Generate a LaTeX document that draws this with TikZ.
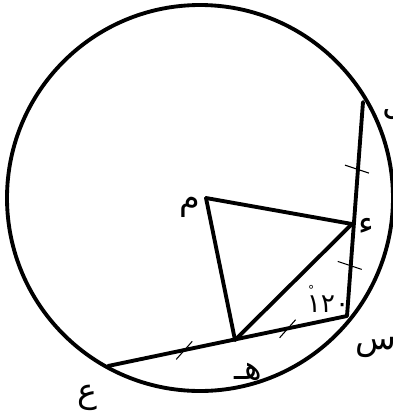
\documentclass[tikz,border=0pt]{standalone}
\usepackage{fontspec}
\newfontfamily\arabicfont[Script=Arabic]{DejaVu Sans}
\TeXXeTstate=1
\usetikzlibrary{calc}
\tikzset{
  edge/.style={line width=2.2pt, line cap=round, line join=round},
  tickmark/.style={line width=0.6pt},
  lbl/.style={font=\arabicfont\fontsize{19}{21}\selectfont, inner sep=0pt},
}

\begin{document}
\begin{tikzpicture}[x=0.02cm, y=-0.02cm]
  % frame
  \fill[white] (0,0) rectangle (393,417);
  \useasboundingbox (0,0) rectangle (393,417);
  % points
  \coordinate (O) at (200,198);
  \coordinate (L) at (363,102);
  \coordinate (S) at (347,316);
  \coordinate (D) at (352,224);
  \coordinate (M) at (206,198);
  \coordinate (H) at (235,340);
  \coordinate (A) at (108,366);
  % circle
  \draw[edge] (O) circle[radius=193];
  % chords and triangle
  \draw[edge] (L) -- (S);
  \draw[edge] (A) -- (S);
  \draw[edge] (M) -- (D);
  \draw[edge] (M) -- (H);
  \draw[edge] (H) -- (D);
  % equal marks
  \path (L) -- (D) coordinate[pos=0.55] (t1);
  \path (D) -- (S) coordinate[pos=0.45] (t2);
  \path (A) -- (H) coordinate[pos=0.6] (t3);
  \path (H) -- (S) coordinate[pos=0.47] (t4);
  \draw[tickmark] ($(t1)+(-12,-4)$) -- ($(t1)+(12,4)$);
  \draw[tickmark] ($(t2)+(-12,-4)$) -- ($(t2)+(12,4)$);
  \draw[tickmark] ($(t3)+(-8,9)$) -- ($(t3)+(8,-9)$);
  \draw[tickmark] ($(t4)+(-8,9)$) -- ($(t4)+(8,-9)$);
  % labels
  \node[lbl] (lL) at (395,104) {\beginR ل\endR};
  \node[lbl] (lD) at (366,226) {\beginR ء\endR};
  \node[lbl] (lM) at (190,207) {\beginR م\endR};
  \node[lbl] (lH) at (248,372) {\beginR هـ\endR};
  \node[lbl] (lS) at (376,347) {\beginR س\endR};
  \node[lbl] (lA) at (87,398) {\beginR ع\endR};
  \node[lbl, font=\arabicfont\fontsize{15}{17}\selectfont] (ang) at (328,299)
    {\rlap{\raisebox{1.2ex}{\kern0.05em\scriptsize°}}١٢٠};
\end{tikzpicture}
\end{document}
